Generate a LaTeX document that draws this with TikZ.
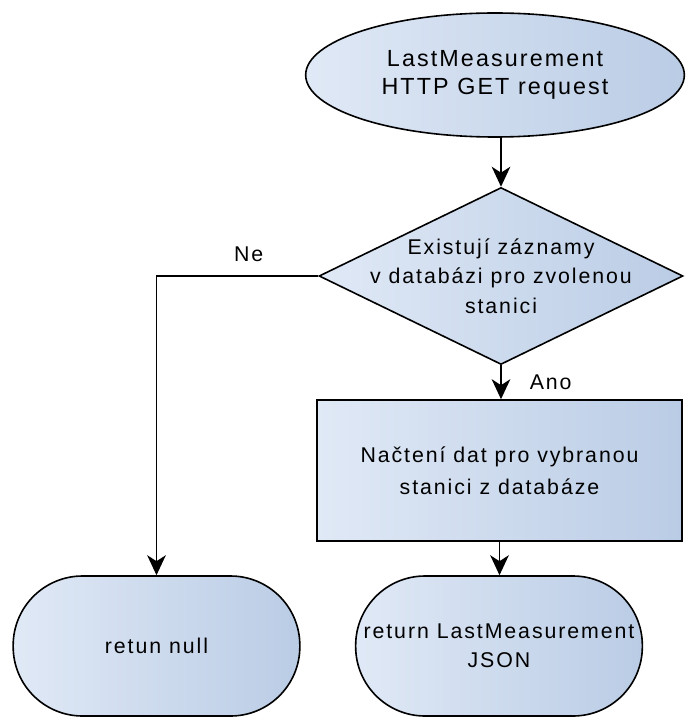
\documentclass[tikz,border=0pt]{standalone}
\usepackage{fontspec}
\setmainfont{Liberation Sans}[LetterSpace=9]
\usepackage{xcolor}
\usepackage{tikz}
\usetikzlibrary{arrows.meta, positioning, shapes.geometric}
\definecolor{boxlight}{RGB}{224,233,246}
\definecolor{boxdark}{RGB}{186,204,229}

\begin{document}
\begin{tikzpicture}[x=0.75pt, y=-0.75pt,
    every node/.style={font=\fontsize{16}{22}\selectfont, align=center},
    shape base/.style={draw=black, line width=1.2pt, left color=boxlight, right color=boxdark, inner sep=0pt},
    startnode/.style={shape base, ellipse, minimum width=284pt, minimum height=93pt, font=\fontsize{17.5}{21}\selectfont},
    decision/.style={shape base, diamond, minimum width=273pt, minimum height=132.75pt},
    process/.style={shape base, rectangle, minimum width=273.75pt, minimum height=105.75pt, font=\fontsize{16}{24}\selectfont},
    terminal/.style={shape base, rectangle, rounded corners=52pt, minimum width=215pt, minimum height=105pt},
    flow/.style={line width=1.2pt, -{Stealth[length=15pt, width=14pt, inset=4.5pt]}},
    lbl/.style={inner sep=0pt}]
    \useasboundingbox (0,0) rectangle (686,720);
    \node[startnode] (req) at (495,75) {LastMeasurement\\HTTP GET request};
    \node[decision, label={[align=center]center:Existují záznamy\\v databázi pro zvolenou\\stanici}] (chk) at (501,276) {};
    \node[process] (load) at (499.5,470.5) {Načtení dat pro vybranou\\stanici z databáze};
    \node[terminal] (nul) at (156.5,646) {retun null};
    \node[terminal] (ret) at (499,646) {return LastMeasurement\\JSON};
    % connectors
    \draw[flow] (req.south -| chk.north) -- (chk.north);
    \draw[flow] (chk.south) -- node[lbl, right=21pt] {Ano} (chk.south |- load.north);
    \draw[flow] (load.south) -- (load.south |- ret.north);
    \draw[flow] (chk.west) -- node[lbl, pos=0.43, above=10pt] {Ne} (nul.north |- chk.west) -- (nul.north);
\end{tikzpicture}
\end{document}
